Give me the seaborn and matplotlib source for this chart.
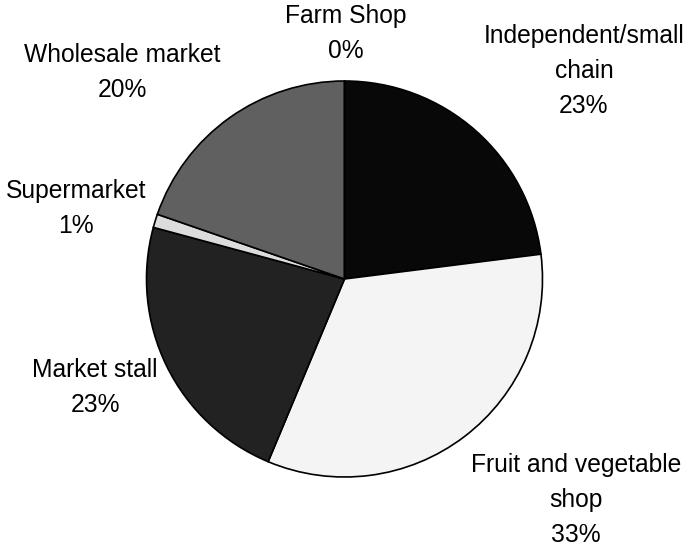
import matplotlib
matplotlib.use("Agg")
import matplotlib.pyplot as plt
import seaborn as sns

# Share of purchases by outlet type (percent)
outlets = ["Independent/small\nchain", "Fruit and vegetable\nshop", "Market stall",
           "Supermarket", "Wholesale market", "Farm Shop"]
shares = [23.0, 33.3, 22.9, 1.1, 19.7, 0.0]
colors = ["#080808", "#f4f4f4", "#222222", "#dcdcdc", "#606060", "#a0a0a0"]

# label anchor points in pixels (centre x, top of first line)
label_px = [(584, 24), (576, 453), (95, 358), (76, 179), (122, 43), (346, 4)]

sns.set_theme(style="white")
plt.rcParams["font.family"] = ["Liberation Sans", "DejaVu Sans"]

W, H = 687, 549
cx, cy, R = 344.5, 279.0, 198.0

fig = plt.figure(figsize=(W / 100, H / 100), dpi=100)
ax = fig.add_axes([0, 0, 1, 1])

wedges, _ = ax.pie(
    shares,
    colors=colors,
    startangle=90,
    counterclock=False,
    radius=1.0,
    wedgeprops=dict(edgecolor="black", linewidth=1.2),
)

ax.set_xlim(-cx / R, (W - cx) / R)
ax.set_ylim(-(H - cy) / R, cy / R)
ax.set_aspect("auto")
ax.axis("off")

for name, val, (px, py) in zip(outlets, shares, label_px):
    ax.text((px - cx) / R, (cy - py) / R, f"{name}\n{val:.0f}%",
            ha="center", va="top", multialignment="center",
            fontsize=17.7, linespacing=1.58, color="black")

fig.savefig("out.png", dpi=100, facecolor="white")
